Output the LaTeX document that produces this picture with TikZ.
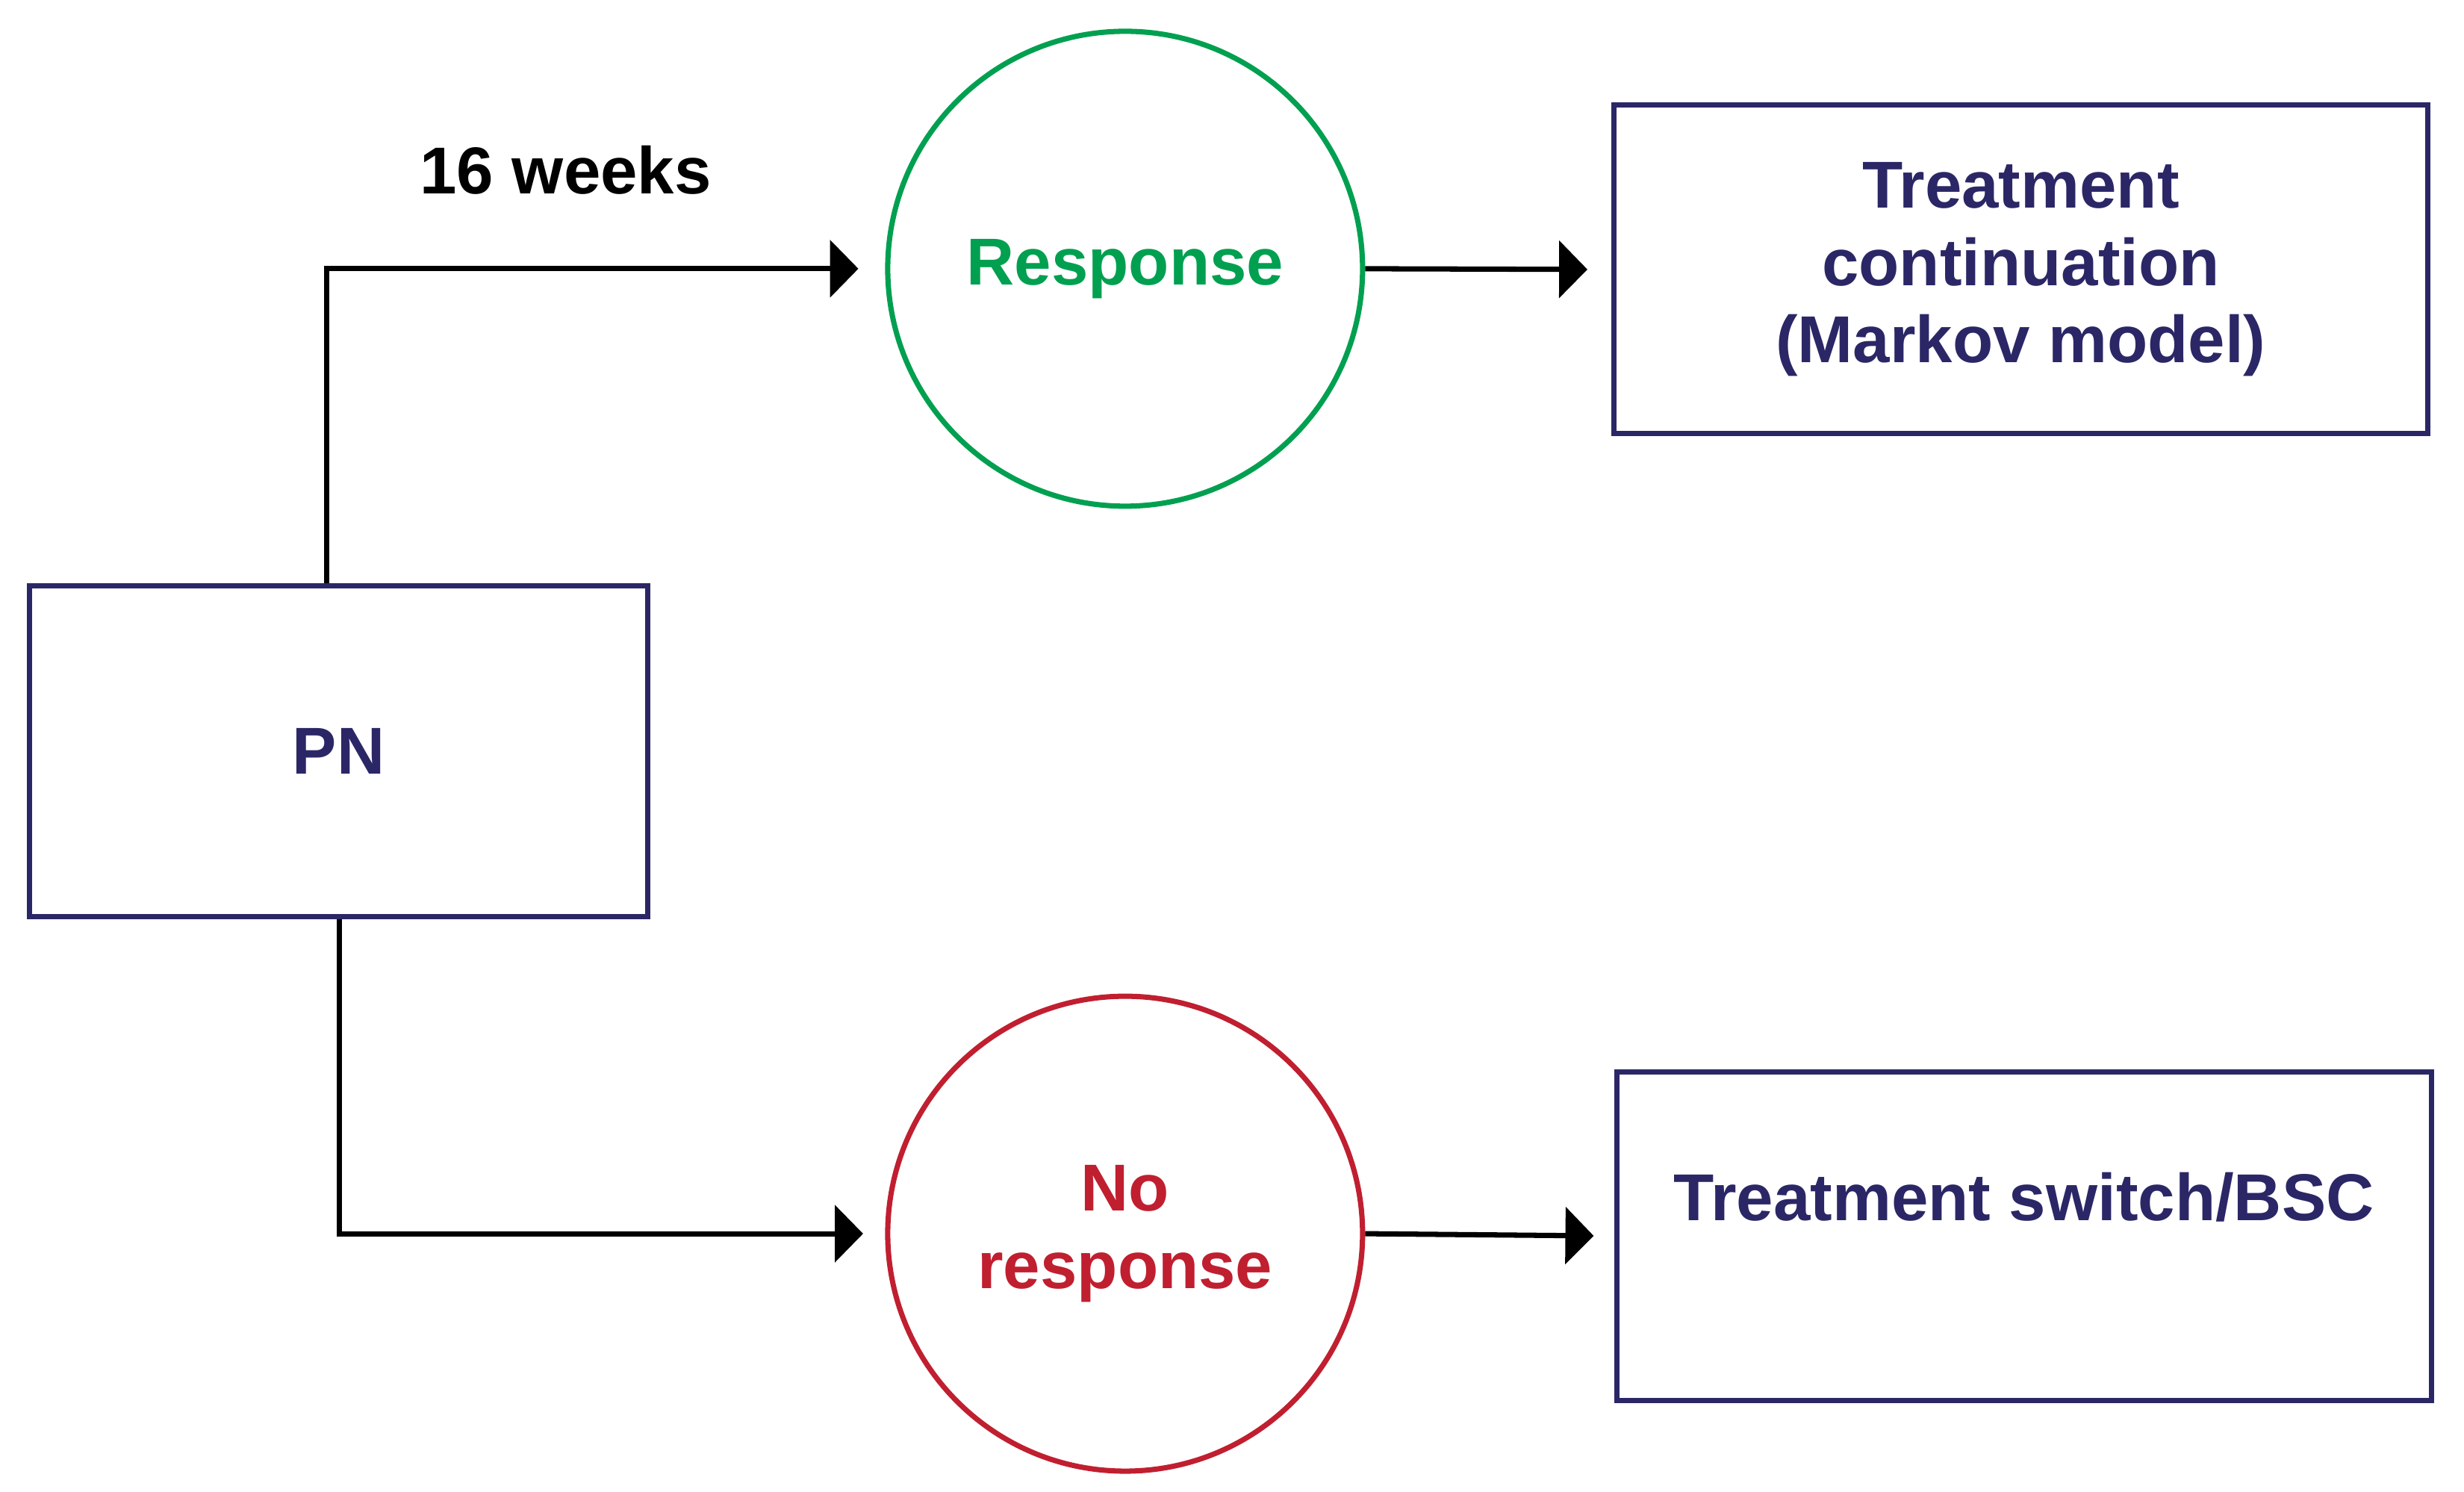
\documentclass[tikz,border=0pt]{standalone}
\usepackage{fontspec}
\setmainfont{Liberation Sans}
\usetikzlibrary{arrows.meta}
\definecolor{navy}{RGB}{43,39,102}
\definecolor{rgreen}{RGB}{0,160,80}
\definecolor{rred}{RGB}{192,31,48}
\begin{document}
\begin{tikzpicture}[x=0.01cm,y=-0.01cm,
  box/.style={draw=navy,line width=0.95pt,text=navy,font=\bfseries\fontsize{12}{14}\selectfont,align=center,inner sep=0pt},
  circ/.style={draw,circle,line width=0.95pt,minimum size=3.02cm,font=\bfseries\fontsize{12}{14}\selectfont,align=center,inner sep=0pt},
  conn/.style={line width=0.95pt,-{Triangle[length=0.18cm,width=0.36cm]}}]
\useasboundingbox (0,0) rectangle (1568,949);
\node[box,minimum width=3.93cm,minimum height=2.10cm] (pn) at (215.5,478) {PN};
\node[circ,draw=rgreen,text=rgreen] (resp) at (716,171) {Response};
\node[circ,draw=rred,text=rred] (nresp) at (716,785) {No\\response};
\node[box,minimum width=5.18cm,minimum height=2.09cm] (tc) at (1286,171.5) {Treatment\\continuation\\(Markov model)};
\node[box,minimum width=5.18cm,minimum height=2.09cm,text depth=0.5cm] (ts) at (1288,786.5) {Treatment switch/BSC};
\coordinate (c1) at (208,171);
\coordinate (c2) at (216,785);
\draw[conn,shorten >=0.17cm] (pn.north -| c1) -- (c1) -- (resp.west);
\draw[conn,shorten >=0.14cm] (pn.south -| c2) -- (c2) -- (nresp.west);
\draw[conn,shorten >=0.15cm] (resp.east) -- (tc.west);
\draw[conn,shorten >=0.13cm] (nresp.east) -- (ts.west);
\node[font=\bfseries\fontsize{12}{14}\selectfont] (lab) at (360,108) {16 weeks};
\end{tikzpicture}
\end{document}
